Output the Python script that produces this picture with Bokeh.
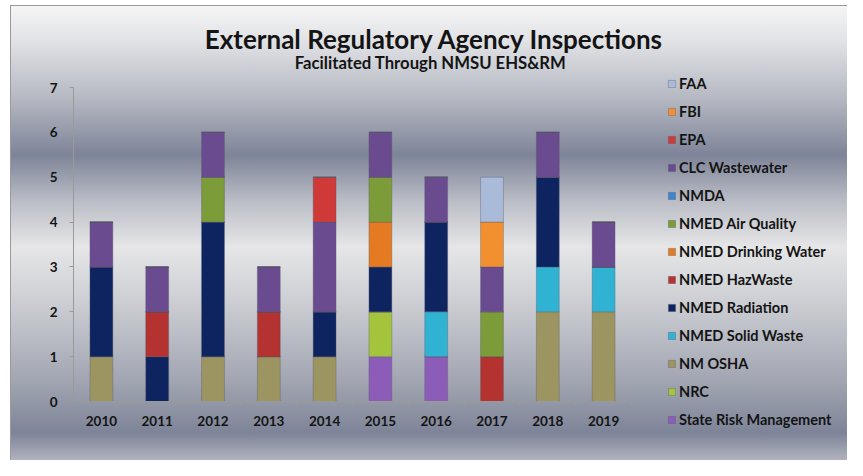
from bokeh.plotting import figure
from bokeh.models import (ColumnDataSource, FixedTicker, Legend, LegendItem, Label)
from bokeh.embed import file_html
from bokeh.resources import INLINE

# ---------------- data ----------------
years = ["2010", "2011", "2012", "2013", "2014", "2015", "2016", "2017", "2018", "2019"]

# stacking order: bottom -> top
series_names = ["State Risk Management", "NRC", "NM OSHA", "NMED Solid Waste",
                "NMED Radiation", "NMED HazWaste", "NMED Drinking Water",
                "NMED Air Quality", "NMDA", "CLC Wastewater", "EPA", "FBI", "FAA"]

state_risk = [0, 0, 0, 0, 0, 1, 1, 0, 0, 0]
nrc        = [0, 0, 0, 0, 0, 1, 0, 0, 0, 0]
nm_osha    = [1, 0, 1, 1, 1, 0, 0, 0, 2, 2]
solid_waste = [0, 0, 0, 0, 0, 0, 1, 0, 1, 1]
radiation  = [2, 1, 3, 0, 1, 1, 2, 0, 2, 0]
hazwaste   = [0, 1, 0, 1, 0, 0, 0, 1, 0, 0]
drinking   = [0, 0, 0, 0, 0, 1, 0, 0, 0, 0]
air_quality = [0, 0, 1, 0, 0, 1, 0, 1, 0, 0]
nmda       = [0, 0, 0, 0, 0, 0, 0, 0, 0, 0]
clc        = [1, 1, 1, 1, 2, 1, 1, 1, 1, 1]
epa        = [0, 0, 0, 0, 1, 0, 0, 0, 0, 0]
fbi        = [0, 0, 0, 0, 0, 0, 0, 1, 0, 0]
faa        = [0, 0, 0, 0, 0, 0, 0, 1, 0, 0]

y_ticks = [0, 1, 2, 3, 4, 5, 6, 7]
y_max = 7

title_text = "External Regulatory Agency Inspections"
subtitle_text = "Facilitated Through NMSU EHS&RM"

# ---------------- styles / layout ----------------
colors = ["#8C5CB9", "#A3C43C", "#9C9461", "#30B2D2",
          "#0E2460", "#B4322F", "#E47B22",
          "#7C9B39", "#3C86CF", "#6B4B90", "#CF3A39", "#F29030", "#A9BBD9"]

W, H = 847, 460
BL, BB = 32, 30                    # left / bottom borders (axis panels)
AX_L, AX_R, AX_T, AX_B = 73, 631, 87, 401   # plot-area pixel box in figure
FONT = "Lato"
TXT = "#141414"
AXC = "#9A9A9A"

n = len(years)
fw, fh = W - BL, H - BB
px_x = (AX_R - AX_L) / n
px_y = (AX_B - AX_T) / y_max
x_start = -(AX_L - BL) / px_x
x_end = x_start + fw / px_x
y_start = -(H - BB - AX_B) / px_y
y_end = y_start + fh / px_y

def data_x(px):
    return (px - AX_L) / px_x

def data_y(py):
    return (AX_B - py) / px_y

# background gradient stops (figure px from top, colour)
stops_y = [5, 40, 100, 155, 200, 247, 300, 380, 433, 476]
stops_c = ["#F5F5F5", "#E2E3E6", "#B4B7C1", "#7E8498", "#B9BCC5",
           "#E6E6E7", "#CDCFD4", "#A2A6B2", "#7E8498", "#CDCFD5"]
gradient = "linear-gradient(to bottom, " + ", ".join(
    "%s %dpx" % (c, y) for y, c in zip(stops_y, stops_c)) + ")"
solid = lambda c: "linear-gradient(%s, %s)" % (c, c)
background = ", ".join([
    solid("#9A9A9A") + " 10px 5px / 1px 100% no-repeat",
    solid("#9A9A9A") + " 10px 5px / 100% 1px no-repeat",
    solid("#FFFFFF") + " 0px 0px / 10px 100% no-repeat",
    solid("#FFFFFF") + " 0px 0px / 100% 5px no-repeat",
    gradient,
])

values = [state_risk, nrc, nm_osha, solid_waste, radiation, hazwaste, drinking,
          air_quality, nmda, clc, epa, fbi, faa]
keys = ["s%d" % i for i in range(len(series_names))]
data = {"x": [i + 0.5 for i in range(n)]}
for k, v in zip(keys, values):
    data[k] = v
source = ColumnDataSource(data)

p = figure(width=W, height=H, x_range=(x_start, x_end), y_range=(y_start, y_end),
           output_backend="svg", toolbar_location=None,
           min_border_left=BL, min_border_right=0,
           min_border_top=0, min_border_bottom=BB)

p.background_fill_color = None
p.border_fill_color = None
p.outline_line_color = None
p.grid.visible = False
p.styles = {"background": background}

renderers = p.vbar_stack(keys, x="x", width=0.41, source=source, color=colors,
                         line_color="#555566", line_alpha=0.35, line_width=1)

# axes
p.xaxis.fixed_location = 0
p.xaxis.bounds = (0, n)
p.xaxis.ticker = FixedTicker(ticks=[i + 0.5 for i in range(n)],
                             minor_ticks=list(range(n + 1)))
p.xaxis.major_label_overrides = {i + 0.5: y for i, y in enumerate(years)}
p.xaxis.major_tick_line_color = None
p.xaxis.major_tick_in = 0
p.xaxis.major_tick_out = 4
p.xaxis.minor_tick_in = 0
p.xaxis.minor_tick_out = 4
p.xaxis.minor_tick_line_color = AXC
p.xaxis.axis_line_color = AXC
p.xaxis.major_label_standoff = 10

p.yaxis.fixed_location = 0
p.yaxis.bounds = (0, y_max)
p.yaxis.ticker = FixedTicker(ticks=y_ticks, minor_ticks=[])
p.yaxis.major_tick_in = 0
p.yaxis.major_tick_out = 4
p.yaxis.major_tick_line_color = AXC
p.yaxis.axis_line_color = AXC
p.yaxis.major_label_standoff = 12

for ax in (p.xaxis, p.yaxis):
    ax.major_label_text_font = FONT
    ax.major_label_text_font_style = "bold"
    ax.major_label_text_font_size = "13.5px"
    ax.major_label_text_color = TXT

# titles
p.add_layout(Label(x=data_x(434), y=data_y(38), text=title_text,
                   text_align="center", text_baseline="middle",
                   text_font=FONT, text_font_style="bold", text_font_size="26px",
                   text_color=TXT))
p.add_layout(Label(x=data_x(430), y=data_y(62), text=subtitle_text,
                   text_align="center", text_baseline="middle",
                   text_font=FONT, text_font_style="bold", text_font_size="16.7px",
                   text_color=TXT))

# legend (top series first)
items = [LegendItem(label=series_names[i], renderers=[renderers[i]])
         for i in reversed(range(len(series_names)))]
legend = Legend(items=items, location=(667 - BL, (H - BB) - 429), orientation="vertical",
                glyph_width=9, glyph_height=9, label_height=20, spacing=8,
                padding=0, margin=0, label_standoff=3,
                border_line_color=None, background_fill_alpha=0,
                label_text_font=FONT, label_text_font_style="bold",
                label_text_font_size="14.5px", label_text_color=TXT)
p.add_layout(legend, "center")

open("out.html", "w").write(file_html(p, INLINE))
